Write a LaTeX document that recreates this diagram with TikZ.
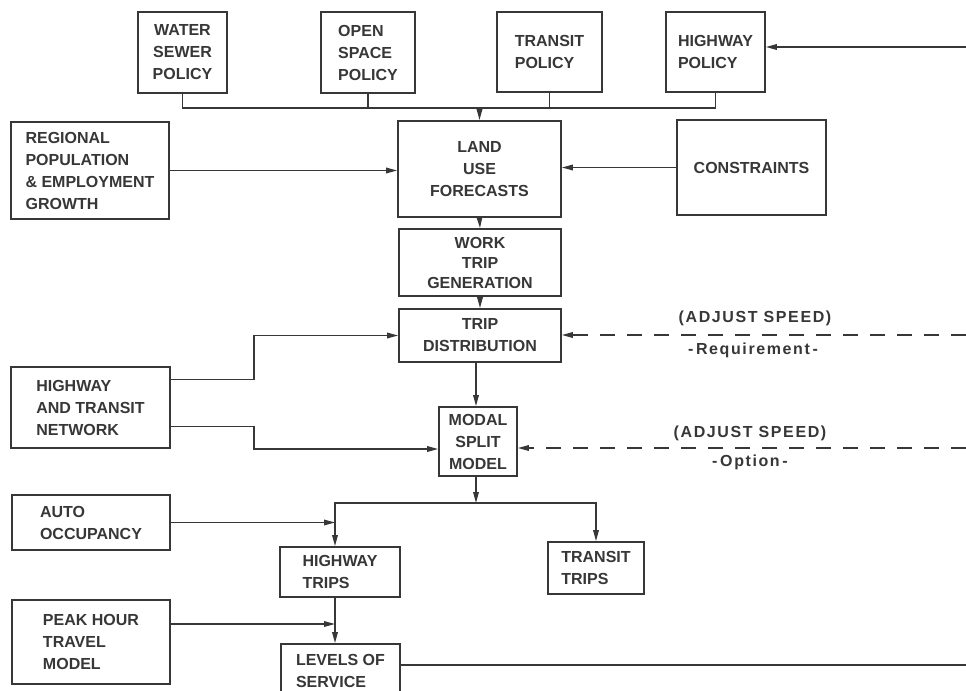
\documentclass[tikz,border=0pt]{standalone}
\usepackage{fontspec}
\setmainfont{Liberation Sans}
\definecolor{inkgray}{RGB}{55,55,55}
\definecolor{papercream}{RGB}{255,255,255}
\usetikzlibrary{arrows.meta,positioning}

\begin{document}
\begin{tikzpicture}[x=0.5pt,y=-0.5pt,
    blk/.style={draw=inkgray,line width=0.9pt,inner sep=0pt,align=center,
                font=\fontsize{8}{11}\selectfont\bfseries,text=inkgray},
    blkl/.style={blk,align=left},
    lbl/.style={inner sep=0pt,font=\fontsize{8}{10}\selectfont\bfseries\addfontfeature{LetterSpace=10},text=inkgray},
    arr/.style={draw=inkgray,line width=0.7pt,-{Triangle[length=5.5pt,width=2.8pt]}},
    ln/.style={draw=inkgray,line width=0.7pt},
    dsh/.style={arr,dash pattern=on 7.5pt off 6pt}]
  \useasboundingbox[fill=papercream] (0,0) rectangle (966,691);

  \node[blk,minimum width=44.5pt,minimum height=40.5pt] (water) at (182.5,52.5) {WATER\\SEWER\\POLICY};
  \node[blkl,minimum width=47pt,minimum height=40.5pt] (openspace) at (368,52.5) {OPEN\\SPACE\\POLICY};
  \node[blkl,minimum width=52.5pt,minimum height=40pt] (transitpol) at (549.5,52) {TRANSIT\\POLICY};
  \node[blkl,minimum width=49.5pt,minimum height=40pt] (hwypol) at (715.5,52) {HIGHWAY\\POLICY};

  \node[blkl,minimum width=79pt,minimum height=48.5pt] (regional) at (90,170.5) {REGIONAL\\POPULATION\\\& EMPLOYMENT\\GROWTH};
  \node[blk,minimum width=81.5pt,minimum height=48pt] (landuse) at (479.5,169) {LAND\\USE\\FORECASTS};
  \node[blk,minimum width=74.5pt,minimum height=47.5pt] (constraints) at (751.5,167.5) {CONSTRAINTS};

  \node[blk,minimum width=81pt,minimum height=33.5pt,font=\fontsize{8}{10}\selectfont\bfseries] (worktrip) at (480,262.5) {WORK\\TRIP\\GENERATION};
  \node[blk,minimum width=81pt,minimum height=26.5pt] (tripdist) at (480,335.5) {TRIP\\DISTRIBUTION};
  \node[blkl,minimum width=79.5pt,minimum height=40.5pt] (network) at (90.5,407.5) {HIGHWAY\\AND TRANSIT\\NETWORK};
  \node[blk,minimum width=39pt,minimum height=34.5pt] (modal) at (478,441.5) {MODAL\\SPLIT\\MODEL};

  \node[blkl,minimum width=79pt,minimum height=27.5pt] (auto) at (91,522.5) {AUTO\\OCCUPANCY};
  \node[blkl,minimum width=60pt,minimum height=25pt] (hwytrips) at (340,572) {HIGHWAY\\TRIPS};
  \node[blkl,minimum width=48pt,minimum height=26pt] (transittrips) at (596,568) {TRANSIT\\TRIPS};
  \node[blkl,minimum width=79pt,minimum height=42pt] (peak) at (91,642) {PEAK HOUR\\TRAVEL\\MODEL};
  \node[blkl,minimum width=59.5pt,minimum height=27pt] (levels) at (340.5,671) {LEVELS OF\\SERVICE};

  \node[lbl] (adjust1) at (755,318) {(ADJUST SPEED)};
  \node[lbl] (reqmt) at (753,350) {-\,Requirement\,-};
  \node[lbl] (adjust2) at (750,433) {(ADJUST SPEED)};
  \node[lbl] (optn) at (750,462) {-\,Option\,-};

  \coordinate (bus) at (0,108);
  \coordinate (hwyin) at (966,47);
  \coordinate (jog) at (254,0);
  \coordinate (spd1) at (966,335);
  \coordinate (spd2) at (966,448);
  \coordinate (split) at (476,503);
  \coordinate (hwyline) at ([xshift=-2.5pt]hwytrips.north);
  \coordinate (losout) at (966,665);

  % policies feed the land use forecasts
  \draw[ln] (water.south) -- (water.south |- bus) -- (hwypol.south |- bus) -- (hwypol.south);
  \draw[ln] (openspace.south) -- (openspace.south |- bus);
  \draw[ln] (transitpol.south) -- (transitpol.south |- bus);
  \draw[arr] (landuse.north |- bus) -- (landuse.north);
  \draw[arr] (hwyin) -- (hwypol.east |- hwyin);
  \draw[arr] (regional.east) -- (landuse.west |- regional.east);
  \draw[arr] (constraints.west) -- (landuse.east |- constraints.west);

  \draw[arr] (landuse.south) -- (worktrip.north);
  \draw[arr] (worktrip.south) -- (tripdist.north);
  \draw[arr] (split |- tripdist.south) -- (split |- modal.north);
  \draw[arr] ([yshift=14pt]network.east) -| (jog |- tripdist.west) -- (tripdist.west);
  \draw[arr] ([yshift=-9.5pt]network.east) -| (jog |- 0,449) -- (modal.west |- 0,449);
  \draw[dsh] (spd1) -- (tripdist.east |- spd1);
  \draw[dsh] (spd2) -- (modal.east |- spd2);

  % split into highway and transit trips
  \draw[arr] (split |- modal.south) -- (split);
  \draw[arr] (split) -| (hwyline);
  \draw[arr] (split) -| (transittrips.north);
  \draw[arr] (auto.east) -- (hwyline |- auto.east);
  \draw[arr] (hwyline |- hwytrips.south) -- (hwyline |- levels.north);
  \draw[arr] ([yshift=9pt]peak.east) -- (hwyline |- 0,624);
  \draw[ln] (levels.east |- losout) -- (losout);
\end{tikzpicture}
\end{document}
